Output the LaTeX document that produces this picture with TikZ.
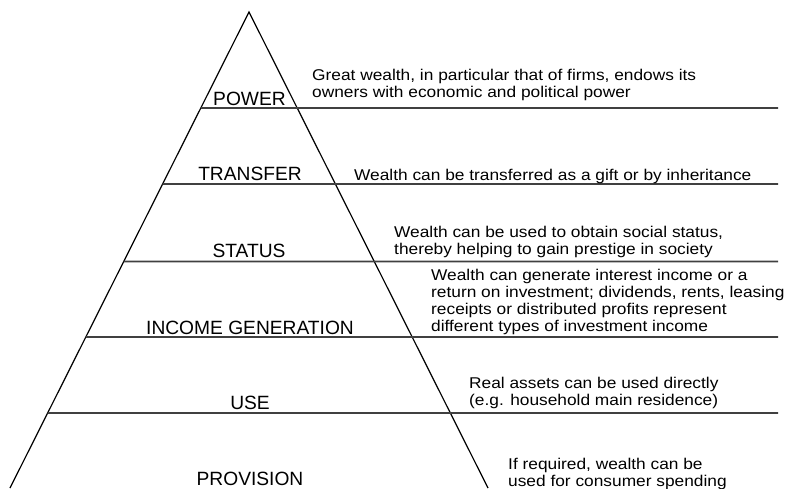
\documentclass[tikz,border=0pt]{standalone}
\usepackage{fontspec}
\setmainfont{Liberation Sans}
\newfontfamily\notefont[FakeStretch=1.11]{Liberation Sans}
\usetikzlibrary{calc}
\begin{document}
\begin{tikzpicture}[x=1pt,y=-1pt,
  side/.style={draw=black,line width=1.2pt},
  tier/.style={draw=black!75,line width=1.6pt},
  level/.style={anchor=base,inner sep=0pt,font=\fontsize{19.2}{21}\selectfont},
  note/.style={anchor=base west,inner sep=0pt,align=left,font=\notefont\fontsize{15.6}{16.8}\selectfont}]
  \useasboundingbox (0,0) rectangle (785,488);
  % pyramid outline
  \coordinate (apex) at (249,12);
  \coordinate (bl) at (10,488);
  \coordinate (br) at (488,488);
  \draw[side] (bl) -- (apex) -- (br);
  % tier boundaries: from the left edge out to the right margin
  \foreach \y/\n in {108/t1,184/t2,261.5/t3,337/t4,413/t5}{
    \coordinate (\n L) at ($(apex)!{(\y-12)/476}!(bl)$);
    \coordinate (\n R) at (778,\y);
    \draw[tier] (\n L) -- (\n R);
  }
  % level names
  \node[level] (power) at (249.5,105) {POWER};
  \node[level] (transfer) at (250,180) {TRANSFER};
  \node[level] (status) at (249,257) {STATUS};
  \node[level] (income) at (250,334) {INCOME GENERATION};
  \node[level] (use) at (250,409) {USE};
  \node[level] (provision) at (250,485) {PROVISION};
  % descriptions (anchored at the baseline of their last line)
  \node[note] (powerdesc) at (312,97.5) {Great wealth, in particular that of firms, endows its\\owners with economic and political power};
  \node[note] (transferdesc) at (354,180) {Wealth can be transferred as a gift or by inheritance};
  \node[note] (statusdesc) at (394,254) {Wealth can be used to obtain social status,\\thereby helping to gain prestige in society};
  \node[note] (incomedesc) at (431,331) {Wealth can generate interest income or a\\return on investment; dividends, rents, leasing\\receipts or distributed profits represent\\different types of investment income};
  \node[note] (usedesc) at (469,405) {Real assets can be used directly\\(e.g. household main residence)};
  \node[note] (provisiondesc) at (508,486) {If required, wealth can be\\used for consumer spending};
\end{tikzpicture}
\end{document}
